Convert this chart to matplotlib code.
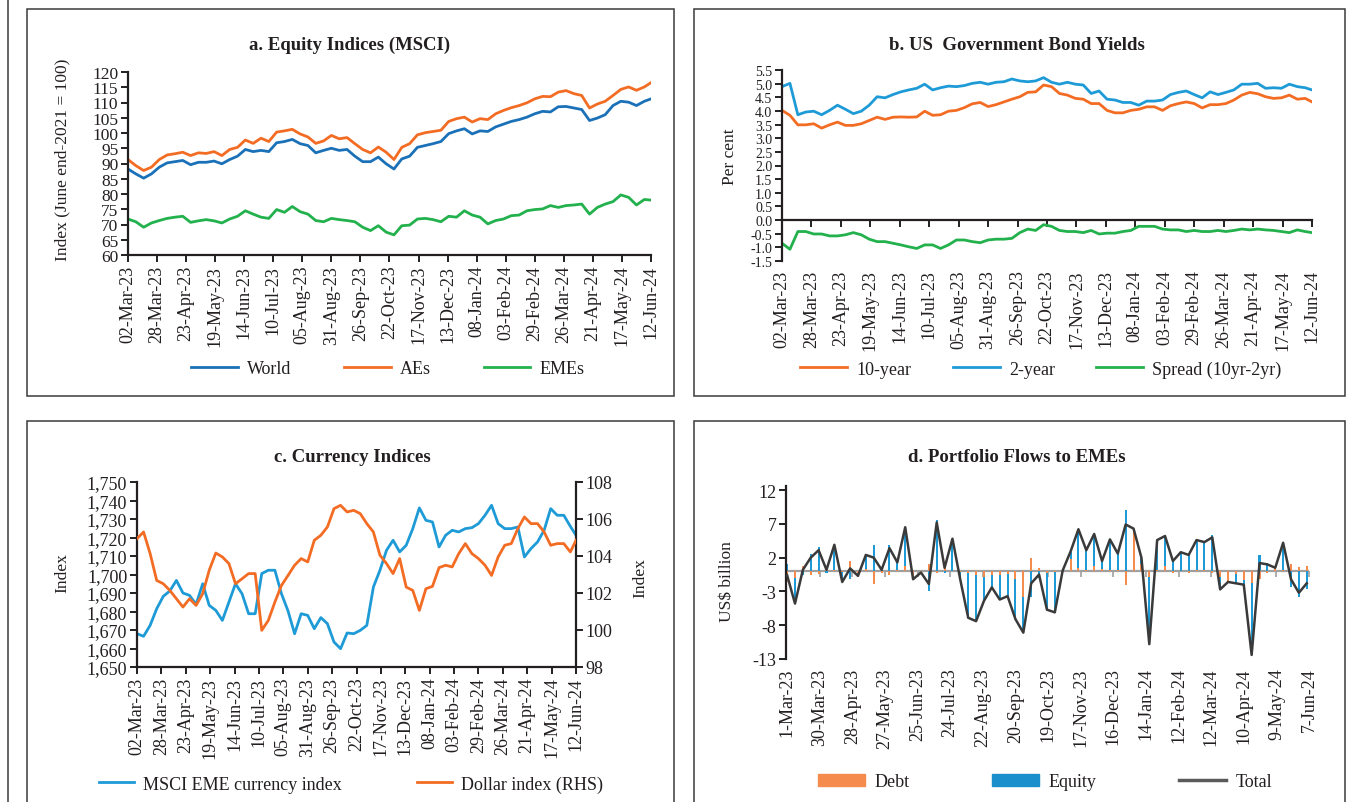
import numpy as np
import pandas as pd
import matplotlib
matplotlib.use('Agg')
import matplotlib.pyplot as plt
import matplotlib.dates as mdates
from matplotlib.patches import Rectangle, Patch
from matplotlib.lines import Line2D

# ---- data (roughly weekly) ----
daily_start = '2023-03-02'
daily_end = '2024-06-12'

world = [88.2, 86.6, 85.2, 86.6, 88.8, 90.2, 90.6, 91.0, 89.6, 90.4,
         90.4, 90.8, 89.9, 91.3, 92.4, 94.6, 93.9, 94.3, 93.9, 96.8,
         97.2, 97.9, 96.5, 95.9, 93.5, 94.3, 95.0, 94.3, 94.6, 92.4,
         90.6, 90.6, 92.1, 89.9, 88.2, 91.5, 92.4, 95.3, 95.9, 96.5,
         97.2, 99.8, 100.7, 101.4, 99.7, 100.7, 100.5, 102.0, 102.9, 103.8,
         104.4, 105.2, 106.3, 107.1, 106.9, 108.6, 108.7, 108.2, 107.7, 104.1,
         104.9, 106.0, 109.0, 110.4, 110.1, 109.0, 110.4, 111.2]
aes = [91.3, 89.3, 87.7, 88.8, 91.3, 92.8, 93.2, 93.7, 92.6, 93.5,
       93.3, 93.9, 92.6, 94.6, 95.3, 97.7, 96.6, 98.3, 97.2, 100.3,
       100.7, 101.2, 99.7, 98.7, 96.6, 97.4, 99.2, 98.1, 98.5, 96.5,
       94.6, 93.5, 95.4, 93.7, 91.3, 95.3, 96.5, 99.4, 100.1, 100.5,
       100.9, 103.8, 104.7, 105.2, 103.6, 104.7, 104.4, 106.3, 107.4, 108.3,
       109.0, 109.9, 111.2, 112.0, 111.9, 113.4, 113.9, 112.9, 112.3, 108.2,
       109.5, 110.4, 112.3, 114.3, 115.1, 114.0, 115.1, 116.5]
emes = [71.8, 70.9, 69.1, 70.5, 71.3, 72.0, 72.4, 72.7, 70.7, 71.2,
        71.6, 71.2, 70.5, 71.8, 72.7, 74.5, 73.4, 72.4, 72.0, 74.9,
        74.0, 75.9, 74.2, 73.4, 71.3, 70.9, 72.0, 71.6, 71.3, 70.9,
        69.1, 68.0, 69.6, 67.5, 66.6, 69.6, 69.8, 71.8, 72.0, 71.6,
        70.9, 72.7, 72.4, 74.5, 73.1, 72.4, 70.2, 71.3, 71.8, 72.9,
        73.1, 74.5, 74.9, 75.1, 76.2, 75.6, 76.2, 76.4, 76.7, 73.4,
        75.6, 76.7, 77.5, 79.7, 78.9, 76.4, 78.2, 78.0]

y10 = [4.02, 3.84, 3.49, 3.49, 3.53, 3.37, 3.49, 3.59, 3.47, 3.47,
       3.53, 3.65, 3.77, 3.69, 3.77, 3.78, 3.77, 3.78, 3.99, 3.84,
       3.86, 3.99, 4.02, 4.12, 4.26, 4.31, 4.16, 4.23, 4.33, 4.43,
       4.52, 4.68, 4.70, 4.95, 4.89, 4.64, 4.58, 4.46, 4.43, 4.27,
       4.27, 4.02, 3.93, 3.93, 4.02, 4.06, 4.15, 4.15, 4.02, 4.19,
       4.27, 4.33, 4.27, 4.11, 4.23, 4.23, 4.27, 4.40, 4.58, 4.68,
       4.63, 4.52, 4.46, 4.48, 4.58, 4.43, 4.46, 4.33]
y2 = [4.89, 5.01, 3.86, 3.96, 3.99, 3.86, 4.02, 4.21, 4.06, 3.90,
      3.99, 4.21, 4.52, 4.48, 4.60, 4.70, 4.77, 4.83, 4.98, 4.77,
      4.85, 4.91, 4.89, 4.93, 5.01, 5.05, 4.98, 5.05, 5.07, 5.17,
      5.10, 5.07, 5.10, 5.22, 5.05, 4.98, 5.05, 4.98, 4.95, 4.64,
      4.73, 4.43, 4.40, 4.31, 4.31, 4.21, 4.36, 4.36, 4.40, 4.60,
      4.68, 4.73, 4.60, 4.48, 4.70, 4.60, 4.68, 4.77, 4.98, 4.98,
      5.01, 4.83, 4.85, 4.83, 4.98, 4.89, 4.85, 4.77]
spread = [-0.85, -1.07, -0.42, -0.42, -0.51, -0.51, -0.58, -0.58, -0.54, -0.46,
          -0.54, -0.70, -0.79, -0.79, -0.85, -0.91, -0.98, -1.04, -0.91, -0.91,
          -1.04, -0.91, -0.73, -0.73, -0.79, -0.83, -0.73, -0.70, -0.70, -0.67,
          -0.46, -0.33, -0.38, -0.17, -0.23, -0.38, -0.42, -0.42, -0.46, -0.38,
          -0.51, -0.48, -0.48, -0.42, -0.38, -0.23, -0.23, -0.23, -0.33, -0.36,
          -0.36, -0.42, -0.38, -0.42, -0.42, -0.38, -0.42, -0.38, -0.33, -0.36,
          -0.33, -0.36, -0.38, -0.42, -0.46, -0.36, -0.42, -0.46]

eme_ccy = [1668.0, 1666.6, 1672.5, 1681.5, 1688.2, 1691.1, 1696.8, 1690.0, 1688.7, 1683.9,
           1695.0, 1683.3, 1680.6, 1675.2, 1685.1, 1695.0, 1689.6, 1678.8, 1678.8, 1700.5,
           1702.3, 1702.3, 1689.6, 1680.3, 1668.0, 1678.8, 1677.9, 1670.7, 1676.7, 1673.4,
           1663.5, 1659.9, 1668.4, 1668.0, 1669.8, 1672.5, 1693.2, 1702.3, 1713.1, 1718.5,
           1712.2, 1715.8, 1724.8, 1736.0, 1729.3, 1728.4, 1714.9, 1721.2, 1723.9, 1723.0,
           1724.8, 1725.3, 1727.5, 1732.0, 1737.4, 1727.5, 1724.8, 1724.8, 1725.7, 1709.5,
           1714.0, 1717.6, 1723.9, 1735.6, 1732.0, 1732.0, 1726.0, 1721.2]
dollar = [104.94, 105.30, 104.13, 102.68, 102.50, 102.14, 101.69, 101.24, 101.69, 101.33,
          101.96, 103.23, 104.16, 103.95, 103.59, 102.50, 102.77, 103.05, 103.05, 99.98,
          100.52, 101.51, 102.41, 102.95, 103.50, 103.86, 103.68, 104.85, 105.12, 105.57,
          106.56, 106.74, 106.38, 106.47, 106.29, 105.75, 105.30, 104.04, 103.59, 103.05,
          103.86, 102.32, 102.14, 101.06, 102.23, 102.36, 103.37, 103.50, 103.41, 104.13,
          104.67, 104.13, 103.86, 103.50, 102.95, 103.95, 104.58, 104.67, 105.48, 106.11,
          105.75, 105.75, 105.30, 104.58, 104.67, 104.67, 104.22, 104.85]

# weekly portfolio flows (US$ billion)
flow_start = '2023-03-01'
flow_end = '2024-06-07'
total = [-0.6, -4.8, 0.2, 2.0, 3.1, 0.2, 3.9, -1.6, 0.4, -0.7,
         2.4, 2.0, 0.2, 3.4, 1.3, 6.5, -1.2, -0.2, -1.9, 7.2,
         0.5, 4.8, -1.3, -6.9, -7.4, -4.4, -2.4, -4.2, -3.7, -7.1,
         -9.1, -1.8, -0.5, -5.7, -6.1, 0.1, 2.9, 6.2, 3.1, 5.5,
         1.5, 4.7, 2.6, 6.9, 6.3, 2.0, -10.8, 4.6, 5.2, 1.5,
         2.8, 2.4, 4.6, 4.3, 5.0, -2.7, -1.6, -1.8, -2.0, -12.4,
         1.2, 1.0, 0.5, 4.2, -1.2, -3.2, -1.8]
debt = [-1.6, -1.0, 0.8, -0.5, -0.4, 0.3, 0.1, -0.1, 1.5, -0.3,
        0.3, -1.9, -0.3, -0.5, 0.1, 0.7, -0.8, -0.1, 1.0, -0.3,
        0.8, 0.0, -0.1, -0.3, -0.5, -0.8, -0.5, -0.6, -0.4, -1.2,
        -3.8, 2.0, 0.5, -0.3, -0.1, 0.1, 1.8, 0.5, 0.2, 0.7,
        0.3, 0.1, 0.2, -2.0, 5.8, 1.0, -0.8, 0.1, 0.8, -0.3,
        0.0, -0.3, 0.1, 0.1, -0.2, -0.8, -1.5, -0.4, -1.3, -1.7,
        -1.2, -0.2, 0.5, 0.2, 1.1, 0.6, 0.8]
equity = [1.0, -3.8, -0.6, 2.5, 3.5, -0.3, 3.8, -1.5, -1.1, -0.4,
          2.1, 3.9, 0.5, 3.9, 1.2, 5.8, -0.4, -0.1, -2.9, 7.5,
          -0.3, 4.8, -1.2, -6.6, -6.9, -3.6, -1.9, -3.6, -3.3, -5.9,
          -5.3, -3.8, -1.0, -5.4, -6.0, 0.0, 1.1, 5.7, 2.9, 4.8,
          1.2, 4.6, 2.4, 9.0, 0.5, 1.0, -10.0, 4.5, 4.4, 1.8,
          2.8, 2.7, 4.5, 4.2, 5.4, -1.9, -0.1, -1.4, -0.7, -10.7,
          2.4, 1.2, 0.0, 4.0, -2.3, -3.8, -2.6]

# ---- setup ----
plt.rcParams['font.family'] = ['Liberation Serif', 'DejaVu Serif']
plt.rcParams['axes.unicode_minus'] = False
TXT = '#231F20'
ORANGE = '#F36C24'
BLUE = '#1B71B8'
LBLUE = '#1E9BD7'
GREEN = '#22B14C'

W, H = 1350, 803
fig = plt.figure(figsize=(13.5, 8.03), dpi=100)


def rect(l, t, r, b):
    return [l / W, 1 - b / H, (r - l) / W, (b - t) / H]


def style(ax):
    for s in ['top', 'right']:
        ax.spines[s].set_visible(False)
    for s in ['left', 'bottom']:
        ax.spines[s].set_linewidth(1.6)
        ax.spines[s].set_color(TXT)
    ax.tick_params(direction='out', length=5, width=1.4, labelsize=13,
                   colors=TXT, pad=2)
    ax.set_facecolor('none')


# dates
wk = pd.date_range(daily_start, periods=67, freq='7D')
dx = mdates.date2num(list(wk) + [pd.Timestamp(daily_end)])
dticks = pd.date_range(daily_start, daily_end, freq='26D')
dtick_x = mdates.date2num(list(dticks))
dtick_lab = [d.strftime('%d-%b-%y') for d in dticks]
dlim = (mdates.date2num(pd.Timestamp(daily_start)), mdates.date2num(pd.Timestamp(daily_end)))

fx = mdates.date2num(list(pd.date_range(flow_start, periods=67, freq='7D')))
fticks = pd.date_range(flow_start, periods=17, freq='29D')
ftick_x = mdates.date2num(list(fticks))
ftick_lab = [f"{d.day}-{d.strftime('%b-%y')}" for d in fticks]
flim = (mdates.date2num(pd.Timestamp(flow_start)), mdates.date2num(pd.Timestamp(flow_end)))

# panel frames
for (l, t, r, b) in [(27, 10, 674, 397), (694, 10, 1345, 397),
                     (27, 422, 674, 810), (694, 422, 1345, 810)]:
    fig.add_artist(Rectangle((l / W, 1 - b / H), (r - l) / W, (b - t) / H,
                             transform=fig.transFigure, fill=False,
                             ec='#3a3a3a', lw=1.1))
fig.add_artist(Line2D([8 / W, 8 / W], [0, 1], transform=fig.transFigure,
                      color='#3a3a3a', lw=1.1))

# ---- a. Equity indices ----
axa = fig.add_axes(rect(128, 73, 651, 256))
style(axa)
axa.tick_params(axis='y', labelsize=12.5)
la1, = axa.plot(dx, world, color=BLUE, lw=2)
la2, = axa.plot(dx, aes, color=ORANGE, lw=2)
la3, = axa.plot(dx, emes, color=GREEN, lw=2)
axa.set_ylim(60, 120)
axa.set_yticks(range(60, 121, 5))
axa.set_xlim(*dlim)
axa.set_xticks(dtick_x)
axa.set_xticklabels(dtick_lab, rotation=90)
fig.text(350 / W, 1 - 45 / H, 'a. Equity Indices (MSCI)', ha='center', va='center',
         fontsize=13.5, fontweight='bold', color=TXT)
fig.text(62 / W, 1 - 160 / H, 'Index (June end-2021 = 100)', rotation=90,
         ha='center', va='center', fontsize=12.5, color=TXT)
fig.legend([la1, la2, la3], ['World', 'AEs', 'EMEs'], loc='center',
           bbox_to_anchor=(388 / W, 1 - 370 / H), ncol=3, frameon=False,
           fontsize=13, handlelength=2.6, handletextpad=0.5, columnspacing=2.9,
           labelcolor=TXT)

# ---- b. US bond yields ----
axb = fig.add_axes(rect(782, 71, 1312, 262))
style(axb)
axb.spines['bottom'].set_visible(False)
axb.tick_params(axis='x', length=0, pad=6)
axb.tick_params(axis='y', labelsize=10)
lb1, = axb.plot(dx, y10, color=ORANGE, lw=2)
lb2, = axb.plot(dx, y2, color=LBLUE, lw=2)
lb3, = axb.plot(dx, spread, color=GREEN, lw=2)
axb.set_ylim(-1.5, 5.5)
byt = np.arange(-1.5, 5.51, 0.5)
axb.set_yticks(byt)
axb.set_yticklabels([f'{v:.1f}' for v in byt])
axb.set_xlim(*dlim)
axb.set_xticks(dtick_x)
axb.set_xticklabels(dtick_lab, rotation=90)
secb = axb.secondary_xaxis(1.5 / 7.0)
secb.set_xticks(dtick_x)
secb.set_xticklabels([])
secb.tick_params(direction='out', length=5, width=1.4, colors=TXT)
for s in secb.spines.values():
    s.set_linewidth(1.6)
    s.set_color(TXT)
fig.text(1017 / W, 1 - 45 / H, 'b. US  Government Bond Yields', ha='center',
         va='center', fontsize=13.5, fontweight='bold', color=TXT)
fig.text(730 / W, 1 - 157 / H, 'Per cent', rotation=90, ha='center',
         va='center', fontsize=12.5, color=TXT)
fig.legend([lb1, lb2, lb3], ['10-year', '2-year', 'Spread (10yr-2yr)'],
           loc='center', bbox_to_anchor=(1041 / W, 1 - 370 / H), ncol=3,
           frameon=False, fontsize=13, handlelength=2.6, handletextpad=0.5,
           columnspacing=2.3, labelcolor=TXT)

# ---- c. Currency indices ----
axc = fig.add_axes(rect(137, 483, 576, 668))
style(axc)
axc2 = axc.twinx()
axc2.spines['top'].set_visible(False)
axc2.spines['left'].set_visible(False)
axc2.spines['bottom'].set_visible(False)
axc2.spines['right'].set_linewidth(1.6)
axc2.spines['right'].set_color(TXT)
axc2.tick_params(direction='out', length=5, width=1.4, labelsize=13,
                 colors=TXT, pad=2)
lc1, = axc.plot(dx, eme_ccy, color=LBLUE, lw=2, zorder=2)
lc2, = axc2.plot(dx, dollar, color=ORANGE, lw=2, zorder=3)
axc.set_ylim(1650, 1750)
cyt = list(range(1650, 1751, 10))
axc.set_yticks(cyt)
axc.set_yticklabels([f'{v:,}' for v in cyt])
axc2.set_ylim(98, 108)
axc2.set_yticks(range(98, 109, 2))
axc.set_xlim(*dlim)
axc.set_xticks(dtick_x)
axc.set_xticklabels(dtick_lab, rotation=90)
fig.text(352 / W, 1 - 457 / H, 'c. Currency Indices', ha='center', va='center',
         fontsize=13.5, fontweight='bold', color=TXT)
fig.text(62 / W, 1 - 573 / H, 'Index', rotation=90, ha='center', va='center',
         fontsize=12.5, color=TXT)
fig.text(640 / W, 1 - 578 / H, 'Index', rotation=90, ha='center', va='center',
         fontsize=12.5, color=TXT)
fig.legend([lc1, lc2], ['MSCI EME currency index', 'Dollar index (RHS)'],
           loc='center', bbox_to_anchor=(351 / W, 1 - 785 / H), ncol=2,
           frameon=False, fontsize=13, handlelength=1.9, handletextpad=0.5,
           columnspacing=4.2, labelcolor=TXT)

# ---- d. Portfolio flows ----
axd = fig.add_axes(rect(786, 487, 1309, 660))
style(axd)
axd.spines['bottom'].set_visible(False)
axd.tick_params(axis='x', length=0, pad=6)
debt_a = np.array(debt)
eq_a = np.array(equity)
eq_bottom = np.where(np.sign(eq_a) == np.sign(debt_a), debt_a, 0.0)
axd.axhline(0, color='#A0A0A0', lw=1.6, zorder=1)
axd.bar(fx, debt_a, width=1.8, color='#F58B4C', zorder=2)
axd.bar(fx, eq_a, bottom=eq_bottom, width=1.8, color=LBLUE, zorder=2)
ld, = axd.plot(fx, total, color='#3A3A3A', lw=1.8, zorder=3)
axd.set_ylim(-13, 12.6)
axd.set_yticks([12, 7, 2, -3, -8, -13])
axd.set_xlim(flim[0] - 1, flim[1])
axd.set_xticks(ftick_x)
axd.set_xticklabels(ftick_lab, rotation=90)
secd = axd.secondary_xaxis(13 / 25.6)
secd.set_xticks(ftick_x)
secd.set_xticklabels([])
secd.tick_params(direction='in', length=4, width=1.2, colors='#A0A0A0')
for s in secd.spines.values():
    s.set_visible(False)
fig.text(1017 / W, 1 - 457 / H, 'd. Portfolio Flows to EMEs', ha='center',
         va='center', fontsize=13.5, fontweight='bold', color=TXT)
fig.text(727 / W, 1 - 582 / H, 'US\\$ billion', rotation=90, ha='center',
         va='center', fontsize=12.5, color=TXT)
hd = [Patch(color='#F58B4C'), Patch(color='#1B8FCB'),
      Line2D([0], [0], color='#5A5A5A', lw=2.5)]
fig.legend(hd, ['Debt', 'Equity', 'Total'], loc='center',
           bbox_to_anchor=(1045 / W, 1 - 783 / H), ncol=3, frameon=False,
           fontsize=13, handlelength=2.6, handleheight=0.6, handletextpad=0.5,
           columnspacing=4.6, labelcolor=TXT)

fig.savefig('out.png', dpi=100)
